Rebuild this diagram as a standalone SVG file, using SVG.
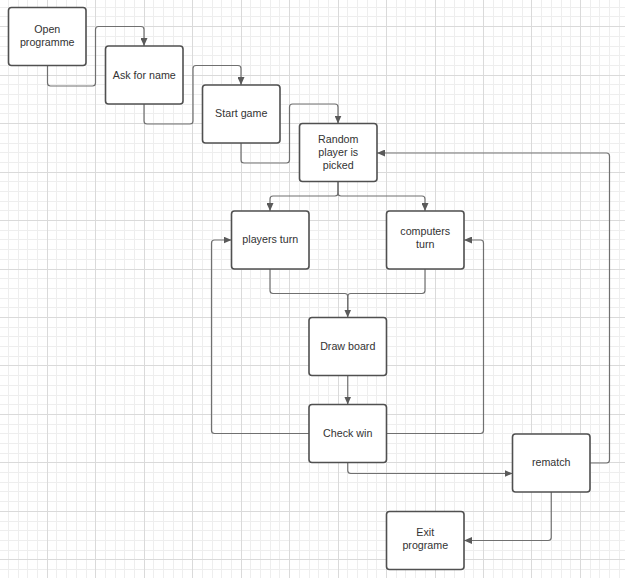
<svg xmlns="http://www.w3.org/2000/svg" width="625" height="578" viewBox="0 0 625 578">
<defs>
<style>
.minor{stroke:#eeeeee;stroke-width:1;fill:none}
.major{stroke:#dadada;stroke-width:1;fill:none}
.box{fill:#ffffff;stroke:#505050;stroke-width:1.6}
.lbl{font-family:"Liberation Sans",Arial,sans-serif;font-size:10.7px;fill:#333333;text-anchor:middle}
.con{fill:none;stroke:#707070;stroke-width:1.2}
</style>
<marker id="arr" markerUnits="userSpaceOnUse" markerWidth="8" markerHeight="7" refX="8" refY="3.5" orient="auto">
<path d="M0,0 L8,3.5 L0,7 z" fill="#5a5a5a"/>
</marker>
</defs>
<rect width="625" height="578" fill="#ffffff"/>
<g id="grid">
<path class="minor" d="M8.5,0V578M18.5,0V578M27.5,0V578M37.5,0V578M56.5,0V578M66.5,0V578M76.5,0V578M86.5,0V578M105.5,0V578M115.5,0V578M124.5,0V578M134.5,0V578M153.5,0V578M163.5,0V578M173.5,0V578M182.5,0V578M202.5,0V578M212.5,0V578M221.5,0V578M231.5,0V578M250.5,0V578M260.5,0V578M270.5,0V578M279.5,0V578M299.5,0V578M309.5,0V578M318.5,0V578M328.5,0V578M347.5,0V578M357.5,0V578M367.5,0V578M376.5,0V578M396.5,0V578M405.5,0V578M415.5,0V578M425.5,0V578M444.5,0V578M454.5,0V578M464.5,0V578M473.5,0V578M493.5,0V578M502.5,0V578M512.5,0V578M522.5,0V578M541.5,0V578M551.5,0V578M561.5,0V578M570.5,0V578M590.5,0V578M599.5,0V578M609.5,0V578M619.5,0V578
M0,7.5H625M0,16.5H625M0,36.5H625M0,46.5H625M0,55.5H625M0,65.5H625M0,84.5H625M0,94.5H625M0,104.5H625M0,113.5H625M0,133.5H625M0,143.5H625M0,152.5H625M0,162.5H625M0,181.5H625M0,191.5H625M0,201.5H625M0,210.5H625M0,230.5H625M0,239.5H625M0,249.5H625M0,259.5H625M0,278.5H625M0,288.5H625M0,298.5H625M0,307.5H625M0,327.5H625M0,336.5H625M0,346.5H625M0,356.5H625M0,375.5H625M0,385.5H625M0,395.5H625M0,404.5H625M0,424.5H625M0,433.5H625M0,443.5H625M0,453.5H625M0,472.5H625M0,482.5H625M0,491.5H625M0,501.5H625M0,521.5H625M0,530.5H625M0,540.5H625M0,550.5H625M0,569.5H625"/>
<path class="major" d="M47.5,0V578M95.5,0V578M144.5,0V578M192.5,0V578M241.5,0V578M289.5,0V578M338.5,0V578M386.5,0V578M435.5,0V578M483.5,0V578M531.5,0V578M580.5,0V578
M0,26.5H625M0,75.5H625M0,123.5H625M0,172.5H625M0,220.5H625M0,269.5H625M0,317.5H625M0,365.5H625M0,414.5H625M0,462.5H625M0,511.5H625M0,559.5H625"/>
</g>
<g id="connectors">
<path class="con" marker-end="url(#arr)" d="M47.5,65.5 V83 Q47.5,86 50.5,86 H92.5 Q95.5,86 95.5,83 V29.5 Q95.5,26.5 98.5,26.5 H141 Q144,26.5 144,29.5 V46"/>
<path class="con" marker-end="url(#arr)" d="M144,104 V121 Q144,124 147,124 H190 Q193,124 193,121 V68.5 Q193,65.5 196,65.5 H238 Q241,65.5 241,68.5 V85"/>
<path class="con" marker-end="url(#arr)" d="M241,143 V160 Q241,163 244,163 H286.5 Q289.5,163 289.5,160 V107 Q289.5,104 292.5,104 H335 Q338,104 338,107 V123.5"/>
<path class="con" marker-end="url(#arr)" d="M338,181.5 V193 Q338,196 335,196 H273 Q270,196 270,199 V211"/>
<path class="con" marker-end="url(#arr)" d="M338,181.5 V193 Q338,196 341,196 H422 Q425,196 425,199 V211"/>
<path class="con" marker-end="url(#arr)" d="M270,269 V290.5 Q270,293.5 273,293.5 H344.75 Q347.75,293.5 347.75,296.5 V317.5"/>
<path class="con" d="M425,269 V290.5 Q425,293.5 422,293.5 H350.75 Q347.75,293.5 347.75,296.5 V310"/>
<path class="con" marker-end="url(#arr)" d="M347.75,375.5 V404.5"/>
<path class="con" marker-end="url(#arr)" d="M309,433.5 H214.5 Q211.5,433.5 211.5,430.5 V243 Q211.5,240 214.5,240 H231.5"/>
<path class="con" marker-end="url(#arr)" d="M386.5,433.5 H480.5 Q483.5,433.5 483.5,430.5 V243 Q483.5,240 480.5,240 H464"/>
<path class="con" marker-end="url(#arr)" d="M347.75,462.5 V470.5 Q347.75,473.5 350.75,473.5 H512.5"/>
<path class="con" marker-end="url(#arr)" d="M590,463 H606.5 Q609.5,463 609.5,460 V156 Q609.5,153 606.5,153 H377"/>
<path class="con" marker-end="url(#arr)" d="M551.25,492 V537.5 Q551.25,540.5 548.25,540.5 H464"/>
</g>
<g id="open-programme">
<rect class="box" x="8.5" y="7.5" width="77.5" height="58" rx="3"/>
<text class="lbl" x="47.25" y="32.7">Open</text>
<text class="lbl" x="47.25" y="45.5">programme</text>
</g>
<g id="ask-for-name">
<rect class="box" x="105.5" y="46" width="77.5" height="58" rx="3"/>
<text class="lbl" x="144.25" y="78.8">Ask for name</text>
</g>
<g id="start-game">
<rect class="box" x="202.5" y="85" width="77.5" height="58" rx="3"/>
<text class="lbl" x="241.25" y="117">Start game</text>
</g>
<g id="random-player">
<rect class="box" x="299.5" y="123.5" width="77.5" height="58" rx="3"/>
<text class="lbl" x="338.25" y="143">Random</text>
<text class="lbl" x="338.25" y="156">player is</text>
<text class="lbl" x="338.25" y="169">picked</text>
</g>
<g id="players-turn">
<rect class="box" x="231.5" y="211" width="77.5" height="58" rx="3"/>
<text class="lbl" x="270.25" y="242.5">players turn</text>
</g>
<g id="computers-turn">
<rect class="box" x="386.5" y="211" width="77.5" height="58" rx="3"/>
<text class="lbl" x="425.25" y="235">computers</text>
<text class="lbl" x="425.25" y="248">turn</text>
</g>
<g id="draw-board">
<rect class="box" x="309" y="317.5" width="77.5" height="58" rx="3"/>
<text class="lbl" x="347.75" y="349.5">Draw board</text>
</g>
<g id="check-win">
<rect class="box" x="309" y="404.5" width="77.5" height="58" rx="3"/>
<text class="lbl" x="347.75" y="437">Check win</text>
</g>
<g id="rematch">
<rect class="box" x="512.5" y="434" width="77.5" height="58" rx="3"/>
<text class="lbl" x="551.25" y="466">rematch</text>
</g>
<g id="exit-programe">
<rect class="box" x="386.5" y="511.5" width="77.5" height="58" rx="3"/>
<text class="lbl" x="425.25" y="535.8">Exit</text>
<text class="lbl" x="425.25" y="548.5">programe</text>
</g>
</svg>
